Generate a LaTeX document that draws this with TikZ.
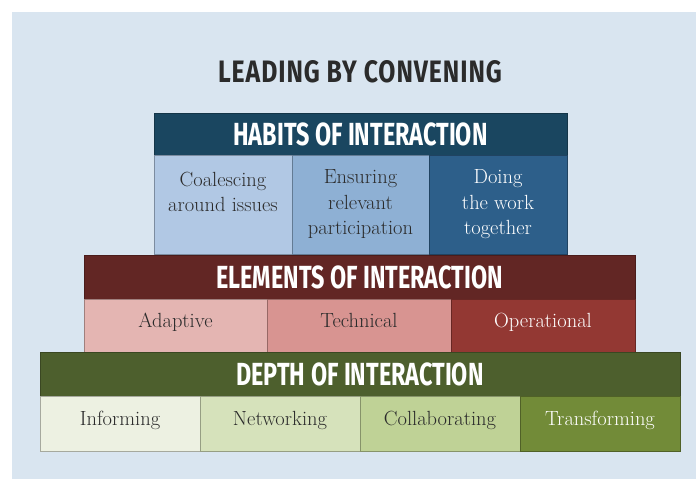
\documentclass[tikz,border=0pt]{standalone}
\usepackage{fontspec}
\newfontfamily\headfont[FakeStretch=0.73]{Fira Sans}
\newfontfamily\titlefont[FakeStretch=0.8,LetterSpace=3]{Fira Sans}
\usetikzlibrary{positioning}

\definecolor{bgblue}{HTML}{D9E5F0}
\definecolor{txtgray}{HTML}{2B2B2B}
\definecolor{habhead}{HTML}{1A4660}
\definecolor{habA}{HTML}{B1C8E4}
\definecolor{habB}{HTML}{8EB0D4}
\definecolor{habC}{HTML}{2D5F8A}
\definecolor{elhead}{HTML}{622624}
\definecolor{elA}{HTML}{E4B5B2}
\definecolor{elB}{HTML}{D89491}
\definecolor{elC}{HTML}{933833}
\definecolor{dephead}{HTML}{4D5F2D}
\definecolor{depA}{HTML}{EDF1E2}
\definecolor{depB}{HTML}{D6E2BB}
\definecolor{depC}{HTML}{BFD296}
\definecolor{depD}{HTML}{728B38}

\tikzset{
  header/.style={draw=#1!75!black, fill=#1, thin, text=white,
    font=\headfont\bfseries\fontsize{32}{32}\selectfont},
  cell/.style={draw=#1!70!black, fill=#1, thin, text=txtgray, align=center,
    font=\fontsize{20.5}{25.5}\selectfont},
  oneline/.style={text height=14pt, text depth=10pt},
  darkcell/.style={text=white},
}

\begin{document}
\begin{tikzpicture}[x=1pt,y=-1pt,every node/.style={inner sep=0pt,outer sep=0pt,anchor=north west}]
    \useasboundingbox (0,0) rectangle (696,479);
    \fill[bgblue] (12,12) rectangle (696,479);

    \node[anchor=center,text=txtgray,font=\titlefont\bfseries\fontsize{31}{31}\selectfont] (title) at (360,72) {LEADING BY CONVENING};

    % habits
    \node[header=habhead,minimum width=413pt,minimum height=42pt] (habits) at (154,113) {HABITS OF INTERACTION};
    \node[cell=habA,minimum width=138pt,minimum height=99pt] (coal) at (154,155) {Coalescing\\around issues\\\mbox{}};
    \node[cell=habB,minimum width=137pt,minimum height=99pt] (ensure) at (292,155) {Ensuring\\relevant\\participation};
    \node[cell=habC,darkcell,minimum width=138pt,minimum height=99pt] (doing) at (429,155) {Doing\\the work\\together};

    % elements
    \node[header=elhead,minimum width=551pt,minimum height=44pt] (elements) at (84,255) {ELEMENTS OF INTERACTION};
    \node[cell=elA,oneline,minimum width=183pt,minimum height=53pt] (adapt) at (84,299) {Adaptive};
    \node[cell=elB,oneline,minimum width=184pt,minimum height=53pt] (tech) at (267,299) {Technical};
    \node[cell=elC,oneline,darkcell,minimum width=184pt,minimum height=53pt] (oper) at (451,299) {Operational};

    % depth
    \node[header=dephead,minimum width=640pt,minimum height=44pt] (depth) at (40,352) {DEPTH OF INTERACTION};
    \node[cell=depA,oneline,minimum width=160pt,minimum height=55pt] (inform) at (40,396) {Informing};
    \node[cell=depB,oneline,minimum width=160pt,minimum height=55pt] (network) at (200,396) {Networking};
    \node[cell=depC,oneline,minimum width=160pt,minimum height=55pt] (collab) at (360,396) {Collaborating};
    \node[cell=depD,oneline,darkcell,minimum width=160pt,minimum height=55pt] (transf) at (520,396) {Transforming};
\end{tikzpicture}
\end{document}
